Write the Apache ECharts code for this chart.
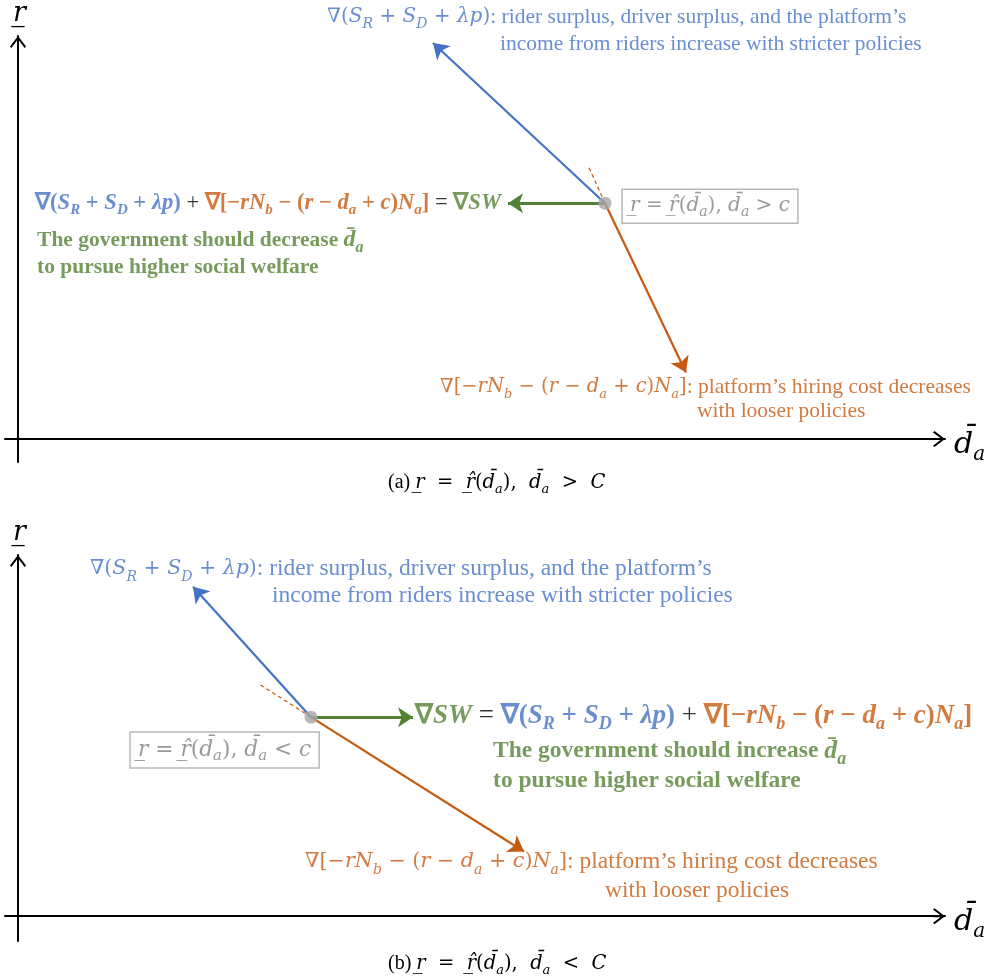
<!DOCTYPE html>
<html><head><meta charset="utf-8">
<script src="https://cdn.jsdelivr.net/npm/echarts@6/dist/echarts.min.js"></script>
<style>html,body{margin:0;padding:0;background:#fff}#c{width:989px;height:979px}</style>
</head><body><div id="c"></div>
<script>
// ---------------- data (abstract units, origin at axes crossing) ----------------
// Panel (a): r = r̂(d̄a), d̄a > C
const eqPointA     = [58.7, 23.7];
const gradRiderA   = [41.5, 39.8];
const gradSWA      = [49.0, 23.7];
const gradHiringA  = [66.8, 6.7];
const tangentA     = [57.0, 27.5];
// Panel (b): r = r̂(d̄a), d̄a < C
const eqPointB     = [29.3, 20.0];
const gradRiderB   = [17.5, 33.1];
const gradSWB      = [39.5, 20.0];
const gradHiringB  = [50.6, 6.5];
const tangentB     = [24.0, 23.4];

// annotation anchors (left edge, vertical middle of each text line)
const labelAnchorsA = [[30.9, 42.4], [48.2, 39.7], [1.7, 23.7], [1.9, 20.0], [1.9, 17.2], [60.4, 23.4], [42.2, 5.2], [67.9, 2.8]];
const labelAnchorsB = [[7.2, 34.9], [25.4, 32.2], [39.7, 20.1], [47.5, 16.6], [47.5, 13.6], [11.2, 16.7], [28.7, 5.5], [58.7, 2.5]];

// texts
const riderMath  = '∇(S_R + S_D + λp)';
const riderText1 = ': rider surplus, driver surplus, and the platform’s';
const riderText2 = 'income from riders increase with stricter policies';
const hiringMath = '∇[−rN_b − (r − d_a + c)N_a]';
const hiringText1 = ': platform’s hiring cost decreases';
const hiringText2 = 'with looser policies';
const swMath = '∇SW';
const govTextA = 'The government should decrease ';
const govTextB = 'The government should increase ';
const govText2 = 'to pursue higher social welfare';
const dbar = 'd\u0304_a';
const boxMathA = 'r\u0332 = r\u0302\u0332(d\u0304_a), d\u0304_a > c';
const boxMathB = 'r\u0332 = r\u0302\u0332(d\u0304_a), d\u0304_a < c';
const captionA = ['(a) ', 'r\u0332  =  r\u0302\u0332(d\u0304_a),  d\u0304_a  >  C'];
const captionB = ['(b) ', 'r\u0332  =  r\u0302\u0332(d\u0304_a),  d\u0304_a  <  C'];
const xName = 'd\u0304_a';
const yName = 'r';

// ---------------- styling helpers ----------------
const COLORS = {b:'#4472C4', o:'#C55A11', g:'#548235', k:'#000000', y:'#7F7F7F'};
const FONTS = {d:'DejaVu Serif', l:'Liberation Serif'};
const rich = {};
function styleName(c, kind, size, bold, fk){
  fk = fk || 'd';
  const name = c + kind + fk + (bold ? 'B' : '') + String(size).replace('.', '_');
  if (!rich[name]) {
    const L = Math.round(size * 1.3);
    const st = {color: COLORS[c], fontSize: size, lineHeight: L, fontFamily: FONTS[fk],
                fontWeight: bold ? 'bold' : 'normal', fontStyle: 'normal'};
    if (kind === 'i') st.fontStyle = 'italic';
    if (kind === 's') { st.fontStyle = 'italic'; st.fontSize = Math.round(size * 0.68);
                        st.lineHeight = Math.round(size * 0.85); st.verticalAlign = 'bottom'; }
    rich[name] = st;
  }
  return name;
}
function math(str, c, size, bold, fk){
  let out = '', cur = null, buf = '';
  const flush = () => { if (buf) { out += '{' + styleName(c, cur, size, bold, fk) + '|' + buf + '}'; buf = ''; } };
  for (let i = 0; i < str.length; i++) {
    let ch = str[i], kind;
    if (ch === '_') { i++; ch = str[i]; kind = 's'; }
    else if (/[\u0300-\u036f]/.test(ch)) { buf += ch; continue; }
    else if (/[A-Za-zλ]/.test(ch)) kind = 'i';
    else kind = 'u';
    if (kind !== cur) { flush(); cur = kind; }
    buf += ch;
  }
  flush();
  return out;
}
function prose(str, c, size, bold){ return '{' + styleName(c, 'p', size, bold, 'l') + '|' + str + '}'; }

// ---------------- label strings ----------------
const textsA = [
  math(riderMath, 'b', 20) + prose(riderText1, 'b', 21.5),
  prose(riderText2, 'b', 21.5),
  math(riderMath, 'b', 22.6, true, 'l') + math(' + ', 'k', 22.6, false, 'l') + math(hiringMath, 'o', 22.6, true, 'l') + math(' = ', 'k', 22.6, false, 'l') + math(swMath, 'g', 22.6, true, 'l'),
  prose(govTextA, 'g', 21.5, true) + math(dbar, 'g', 24, true, 'l'),
  prose(govText2, 'g', 21.5, true),
  math(boxMathA, 'y', 20),
  math(hiringMath, 'o', 19.5) + prose(hiringText1, 'o', 21.5),
  prose(hiringText2, 'o', 21.5)
];
const textsB = [
  math(riderMath, 'b', 20.5) + prose(riderText1, 'b', 23.5),
  prose(riderText2, 'b', 23.5),
  math(swMath, 'g', 27, true, 'l') + math(' = ', 'k', 27, false, 'l') + math(riderMath, 'b', 27, true, 'l') + math(' + ', 'k', 27, false, 'l') + math(hiringMath, 'o', 27, true, 'l'),
  prose(govTextB, 'g', 23.5, true) + math(dbar, 'g', 26, true, 'l'),
  prose(govText2, 'g', 23.5, true),
  math(boxMathB, 'y', 21.7),
  math(hiringMath, 'o', 20.7) + prose(hiringText1, 'o', 23.5),
  prose(hiringText2, 'o', 23.5)
];
const BOX_INDEX = 5;
const capA = prose(captionA[0], 'k', 20) + math(captionA[1], 'k', 19.5);
const capB = prose(captionB[0], 'k', 20) + math(captionB[1], 'k', 19.5);
const xNameStr = math(xName, 'k', 30);
rich.yr = {fontFamily:'DejaVu Serif', fontStyle:'italic', fontSize:27, lineHeight:19, color:'#000', padding:[0,0,0,3]};
rich.yu = {fontFamily:'Liberation Serif', fontSize:26, lineHeight:6, color:'#000'};
const yNameStr = '{yr|' + yName + '}\n{yu|–}';

// ---------------- chart ----------------
const chevron = 'path://M8,0 L16,10.5 L14.6,12 L9,4.6 L9,12 L7,12 L7,4.6 L1.4,12 L0,10.5 Z';
function axisPair(i, xr, yr){
  const common = {type:'value', gridIndex:i, splitLine:{show:false}, axisTick:{show:false}, axisLabel:{show:false}};
  const line = {show:true, onZero:true, symbol:['none', chevron], symbolSize:[16,12], symbolOffset:[0,-6], lineStyle:{color:'#000', width:2}};
  return {
    x: Object.assign({}, common, {min:xr[0], max:xr[1], name:xNameStr, nameLocation:'end', nameGap:9,
        nameTextStyle:{rich:rich, padding:[12,0,0,0]}, axisLine:line}),
    y: Object.assign({}, common, {min:yr[0], max:yr[1], name:yNameStr, nameLocation:'end', nameGap:7,
        nameTextStyle:{rich:rich, align:'center'}, axisLine:line})
  };
}
const axA = axisPair(0, [-1.3, 92.7], [-2.3, 40.5]);
const axB = axisPair(1, [-1.3, 92.7], [-2.5, 36.3]);

function panelSeries(i, P, rider, sw, hiring, tangent, anchors, texts){
  return [
    {type:'lines', coordinateSystem:'cartesian2d', xAxisIndex:i, yAxisIndex:i, clip:false, silent:true, z:3,
     symbol:'none', lineStyle:{color:COLORS.o, width:1.2, type:[4,3], opacity:1},
     data:[{coords:[P, tangent]}]},
    {type:'lines', coordinateSystem:'cartesian2d', xAxisIndex:i, yAxisIndex:i, clip:false, silent:true, z:4,
     symbol:['none','arrow'], symbolSize:[11,15],
     data:[
       {coords:[P, rider],  lineStyle:{color:COLORS.b, width:2.2, opacity:1}},
       {coords:[P, hiring], lineStyle:{color:COLORS.o, width:2.2, opacity:1}},
       {coords:[P, sw],     lineStyle:{color:COLORS.g, width:3, opacity:1}}
     ]},
    {type:'scatter', xAxisIndex:i, yAxisIndex:i, silent:true, z:6, symbolSize:13,
     itemStyle:{color:'#A6A6A6'}, data:[P]},
    {type:'scatter', xAxisIndex:i, yAxisIndex:i, silent:true, clip:false, z:7, symbolSize:0.1,
     itemStyle:{color:'rgba(0,0,0,0)'},
     label:{show:true, position:'right', distance:0, rich:rich},
     data: anchors.map((a, k) => {
       const lab = {formatter: texts[k]};
       if (k === BOX_INDEX) Object.assign(lab, {borderColor:'#A6A6A6', borderWidth:1.5, padding:[4,8,4,8]});
       return {value:a, label:lab};
     })}
  ];
}

const chart = echarts.init(document.getElementById('c'), null, {renderer:'canvas'});
chart.setOption({
  animation:false,
  backgroundColor:'#fff',
  title:[
    {text:capA, left:383, top:465, textStyle:{rich:rich}},
    {text:capB, left:383, top:946, textStyle:{rich:rich}}
  ],
  grid:[
    {left:5, top:35, width:940, height:427},
    {left:5, top:555, width:940, height:386}
  ],
  xAxis:[axA.x, axB.x],
  yAxis:[axA.y, axB.y],
  series:[].concat(
    panelSeries(0, eqPointA, gradRiderA, gradSWA, gradHiringA, tangentA, labelAnchorsA, textsA),
    panelSeries(1, eqPointB, gradRiderB, gradSWB, gradHiringB, tangentB, labelAnchorsB, textsB)
  )
});
</script></body></html>
